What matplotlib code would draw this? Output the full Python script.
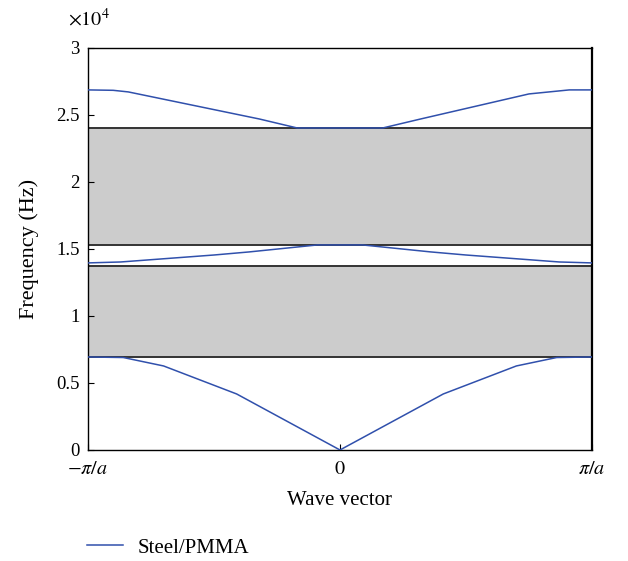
import matplotlib
matplotlib.use("Agg")
import matplotlib.pyplot as plt
from matplotlib.patches import Rectangle

plt.rcParams['font.family'] = ['Liberation Serif', 'DejaVu Serif']
plt.rcParams['mathtext.fontset'] = 'stix'

# Wave vector in units of pi/a
k1 = [-1.0, -0.86, -0.70, -0.41, 0.0, 0.41, 0.70, 0.86, 1.0]
f1 = [0.694, 0.690, 0.627, 0.418, 0.0, 0.418, 0.627, 0.690, 0.694]

k2 = [-1.0, -0.87, -0.50, -0.36, -0.09, 0.0, 0.09, 0.36, 0.50, 0.87, 1.0]
f2 = [1.396, 1.403, 1.455, 1.478, 1.530, 1.530, 1.530, 1.478, 1.455, 1.403, 1.396]

k3 = [-1.0, -0.90, -0.84, -0.32, -0.17, 0.0, 0.17, 0.32, 0.75, 0.91, 1.0]
f3 = [2.687, 2.684, 2.672, 2.470, 2.403, 2.403, 2.403, 2.470, 2.657, 2.687, 2.687]

# Band gaps (x1e4 Hz)
gaps = [(0.694, 1.373), (1.530, 2.403)]

yticks = [0, 0.5, 1, 1.5, 2, 2.5, 3]
ytick_labels = ['0', '0.5', '1', '1.5', '2', '2.5', '3']
xticks = [-1, 0, 1]
xtick_labels = [r'$-\pi/a$', r'$0$', r'$\pi/a$']

fig = plt.figure(figsize=(6.28, 5.61), dpi=100)
ax = fig.add_axes([0.1401, 0.1979, 0.8025, 0.7166])

line_color = '#3050ac'
for lo, hi in gaps:
    ax.add_patch(Rectangle((-1, lo), 2, hi - lo, facecolor='#cccccc',
                           edgecolor='#333333', linewidth=1.4, zorder=1))
ax.plot(k1, f1, color=line_color, lw=1.1, zorder=3, label='Steel/PMMA')
ax.plot(k2, f2, color=line_color, lw=1.1, zorder=3)
ax.plot(k3, f3, color=line_color, lw=1.1, zorder=3)

ax.set_xlim(-1, 1)
ax.set_ylim(0, 3)
ax.set_yticks(yticks)
ax.set_yticklabels(ytick_labels, fontsize=13.5)
ax.set_xticks(xticks)
ax.set_xticklabels(xtick_labels, fontsize=14.5)
ax.tick_params(axis='y', direction='in', length=4, width=0.8, pad=6)
ax.tick_params(axis='x', direction='in', length=4, width=0.8, pad=7)
for s in ax.spines.values():
    s.set_linewidth(1.0)
    s.set_color('black')
ax.spines['right'].set_linewidth(1.6)

ax.set_xlabel('Wave vector', fontsize=15, labelpad=9)
ax.set_ylabel('Frequency (Hz)', fontsize=16, labelpad=12)

fig.text(0.108, 0.955, r'$\times10^{4}$', fontsize=14.5, ha='left', va='baseline')

fig.legend(loc='center left', bbox_to_anchor=(0.138, 0.0232), frameon=False,
           fontsize=15, handlelength=1.75, handletextpad=0.7,
           borderpad=0, borderaxespad=0)

fig.savefig('out.png', dpi=100)
